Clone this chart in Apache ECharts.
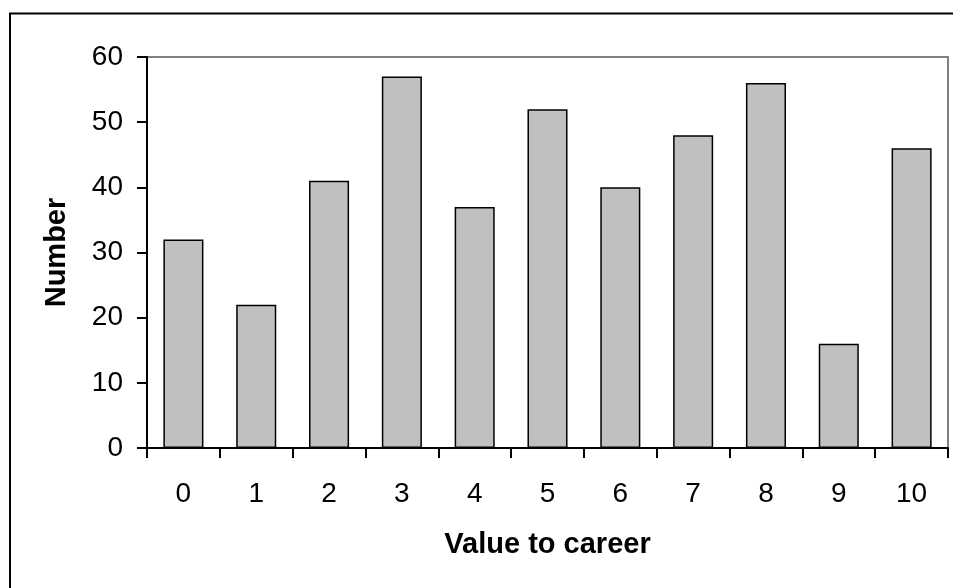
<!DOCTYPE html>
<html>
<head>
<meta charset="utf-8">
<script src="https://cdn.jsdelivr.net/npm/echarts@6/dist/echarts.min.js"></script>
<style>
  html, body { margin: 0; padding: 0; background: #ffffff; }
  #chart { width: 953px; height: 588px; }
</style>
</head>
<body>
<div id="chart"></div>
<script>
// Career-value ratings (0–10) and how many responses gave each
const categories = ['0', '1', '2', '3', '4', '5', '6', '7', '8', '9', '10'];
const counts = [32, 22, 41, 57, 37, 52, 40, 48, 56, 16, 46];
const xTitle = 'Value to career';
const yTitle = 'Number';

const chart = echarts.init(document.getElementById('chart'), null, { renderer: 'canvas' });

const font = '"Liberation Sans", Arial, sans-serif';

chart.setOption({
  animation: false,
  backgroundColor: '#ffffff',
  graphic: [{
    type: 'rect',
    shape: { x: 10, y: 13.5, width: 1200, height: 1200 },
    style: { fill: 'none', stroke: '#000000', lineWidth: 2 },
    silent: true,
    z: 100
  }],
  grid: {
    left: 147, top: 57, right: 5, bottom: 140,
    show: true,
    borderColor: '#808080',
    borderWidth: 2,
    backgroundColor: 'transparent'
  },
  xAxis: {
    type: 'category',
    data: categories,
    boundaryGap: true,
    name: xTitle,
    nameLocation: 'middle',
    nameGap: 82,
    nameTextStyle: { fontFamily: font, fontSize: 29, fontWeight: 'bold', color: '#000' },
    axisLine: { show: true, lineStyle: { color: '#000', width: 2 } },
    axisTick: { show: true, alignWithLabel: false, length: 10, lineStyle: { color: '#000', width: 2 } },
    axisLabel: { fontFamily: font, fontSize: 28, color: '#000', margin: 32, interval: 0 },
    splitLine: { show: false },
    z: 10
  },
  yAxis: {
    type: 'value',
    min: 0, max: 60, interval: 10,
    name: yTitle,
    nameLocation: 'middle',
    nameGap: 76,
    nameRotate: 90,
    nameTextStyle: { fontFamily: font, fontSize: 29, fontWeight: 'bold', color: '#000' },
    axisLine: { show: true, lineStyle: { color: '#000', width: 2 } },
    axisTick: { show: true, length: 10, lineStyle: { color: '#000', width: 2 } },
    axisLabel: { fontFamily: font, fontSize: 28, color: '#000', margin: 24 },
    splitLine: { show: false },
    z: 10
  },
  series: [{
    type: 'bar',
    data: counts,
    barCategoryGap: '45%',
    itemStyle: { color: '#C0C0C0', borderColor: '#000', borderWidth: 1.5 }
  }]
});
</script>
</body>
</html>
